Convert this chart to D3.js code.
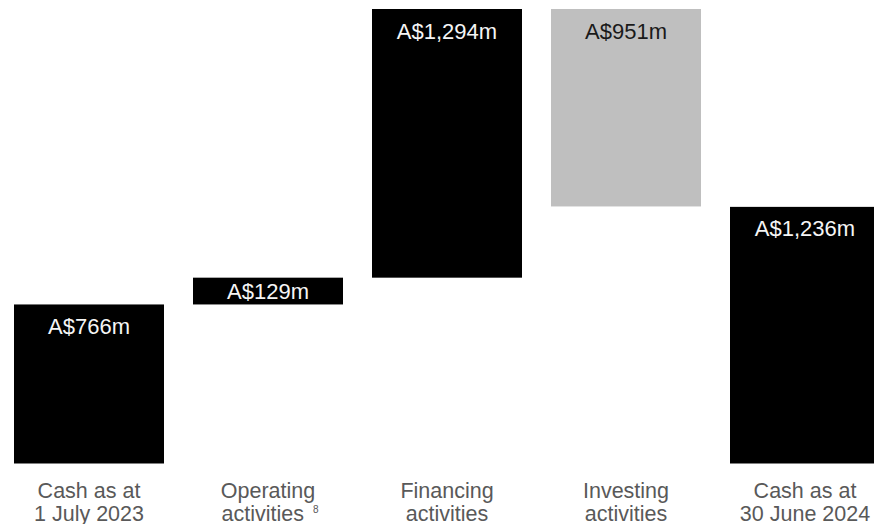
<!DOCTYPE html>
<html>
<head>
<meta charset="utf-8">
<script src="https://cdn.jsdelivr.net/npm/d3@7"></script>
<style>
  html, body { margin: 0; padding: 0; background: #fff; overflow: hidden; }
  svg { display: block; }
  text { font-family: "Liberation Sans", Arial, sans-serif; }
</style>
</head>
<body>
<svg id="chart" width="874" height="524"></svg>
<script>
// ---- data ----
const categories = ["Cash as at|1 July 2023", "Operating|activities", "Financing|activities", "Investing|activities", "Cash as at|30 June 2024"];
const footnotes = ["", "8", "", "", ""];
const values = [766, 129, 1294, -951, 1236];
const kinds = ["total", "delta", "delta", "delta", "total"];
const valueLabels = ["A$766m", "A$129m", "A$1,294m", "A$951m", "A$1,236m"];

// ---- build waterfall ----
let running = 0;
const rows = categories.map((c, i) => {
  let y0, y1;
  if (kinds[i] === "total") { y0 = 0; y1 = values[i]; running = values[i]; }
  else { y0 = running; y1 = running + values[i]; running = y1; }
  return { cat: c, lines: c.split("|"), note: footnotes[i], lo: Math.min(y0, y1), hi: Math.max(y0, y1),
           neg: values[i] < 0, label: valueLabels[i] };
});
const maxV = d3.max(rows, d => d.hi);

const svg = d3.select("#chart");
const x = d3.scaleBand().domain(categories).range([-0.5, 894.5]).paddingInner(29 / 179).paddingOuter(29 / 179 / 2);
const y = d3.scaleLinear().domain([0, maxV]).range([463.5, 9]);

const g = svg.append("g");
g.selectAll("rect.bar").data(rows).enter().append("rect")
  .attr("class", "bar")
  .attr("x", d => x(d.cat))
  .attr("width", x.bandwidth())
  .attr("y", d => y(d.hi))
  .attr("height", d => y(d.lo) - y(d.hi))
  .attr("fill", d => d.neg ? "#bfbfbf" : "#000000");

const fs = 22, cap = fs * 0.716;
g.selectAll("text.val").data(rows).enter().append("text")
  .attr("class", "val")
  .attr("x", d => x(d.cat) + x.bandwidth() / 2)
  .attr("y", d => {
    const top = y(d.hi), h = y(d.lo) - y(d.hi);
    return top + Math.min(29.5, h / 2 + cap / 2);
  })
  .attr("text-anchor", "middle")
  .attr("font-size", fs)
  .attr("fill", d => d.neg ? "#1a1a1a" : "#f5f5f5")
  .text(d => d.label);

// category labels
const cl = g.selectAll("g.cat").data(rows).enter().append("g").attr("class", "cat");
cl.each(function(d) {
  const cx = x(d.cat) + x.bandwidth() / 2;
  const sel = d3.select(this);
  d.lines.forEach((ln, k) => {
    const t = sel.append("text")
      .attr("x", cx + (d.note && k === 1 ? 2 : 0))
      .attr("y", 497.5 + k * 23)
      .attr("text-anchor", "middle")
      .attr("font-size", 21.5)
      .attr("fill", "#595959");
    t.append("tspan").text(ln);
    if (d.note && k === 1) {
      t.append("tspan").attr("font-size", 10).attr("dx", 9).attr("dy", -8).text(d.note);
    }
  });
});
</script>
</body>
</html>
